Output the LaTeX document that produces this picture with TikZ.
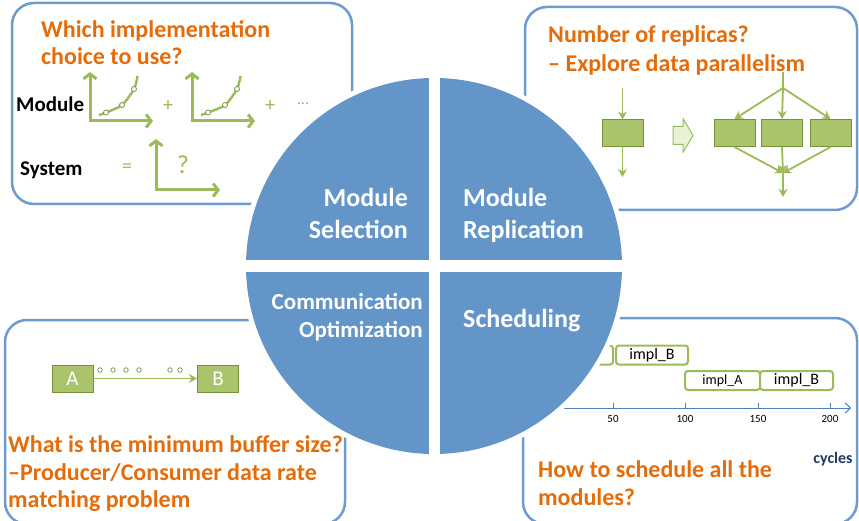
\documentclass[tikz,border=0pt]{standalone}
\usepackage{fontspec}
\setmainfont{Carlito}
\usetikzlibrary{arrows.meta}

\definecolor{quadblue}{RGB}{99,149,201}
\definecolor{frameblue}{RGB}{108,155,207}
\definecolor{accent}{RGB}{228,108,10}
\definecolor{leaf}{RGB}{155,187,89}
\definecolor{leafdark}{RGB}{118,146,60}
\definecolor{leaffill}{RGB}{169,196,106}
\definecolor{leaflight}{RGB}{232,243,214}
\definecolor{navy}{RGB}{31,56,100}
\definecolor{axisblue}{RGB}{79,129,189}

\tikzset{
  frame/.style={draw=frameblue, line width=2.5pt, rounded corners=22pt},
  question/.style={text=accent, font=\bfseries\fontsize{24}{28}\selectfont, inner sep=0, anchor=base west},
  label/.style={text=black, font=\bfseries\fontsize{21}{24}\selectfont, inner sep=0, anchor=base west},
  quadtext/.style={text=white, font=\bfseries\fontsize{26}{30}\selectfont, inner sep=0},
  quadsmall/.style={text=white, font=\bfseries\fontsize{23}{27}\selectfont, inner sep=0, anchor=base east},
  plotaxis/.style={draw=leaf, line width=3pt, line join=miter,
    {Straight Barb[length=5pt,width=13pt]}-{Straight Barb[length=5pt,width=13pt]}},
  trend/.style={draw=leaf, line width=2.4pt},
  sample/.style={circle, draw=leafdark, fill=white, line width=0.8pt, inner sep=0, minimum size=5pt},
  sign/.style={text=leaf, font=\fontsize{20}{24}\selectfont, inner sep=0},
  block/.style={draw=leafdark, fill=leaffill, line width=1pt, minimum width=41pt, minimum height=27pt, inner sep=0},
  flow/.style={draw=leaf, line width=1.8pt, -{Stealth[length=8pt,width=9pt,inset=2.5pt]}},
  feed/.style={draw=leaf, line width=1.8pt},
  token/.style={circle, draw=leafdark, fill=white, line width=0.7pt, inner sep=0, minimum size=4.5pt},
  task/.style={draw=leaf, fill=white, line width=2pt, rounded corners=3pt, minimum height=19pt, inner sep=0},
  ticklabel/.style={font=\fontsize{11}{13}\selectfont, inner sep=0, anchor=base},
}

\begin{document}
\begin{tikzpicture}[x=1pt,y=-1pt]
\path[use as bounding box] (0,0) rectangle (859,521);
\clip (0,0) rectangle (859,521);

% ---------- four frames ----------
\draw[frame] (12,3) rectangle (352,204);
\draw[frame] (525,7) rectangle (857,210);
\draw[frame] (5,320) rectangle (345,524);
\draw[frame] (523,318) rectangle (857,524);

% ---------- module selection panel ----------
\node[question] (selq1) at (41,38) {Which implementation};
\node[question] (selq2) at (41,65) {choice to use?};
\node[label] (modlbl) at (16,112) {Module};
\node[label] (syslbl) at (20,176) {System};

% first cost curve
\coordinate (g1y) at (90,72);
\coordinate (g1x) at (153,121);
\draw[plotaxis] (g1y) |- (g1x);
\draw[trend] plot[smooth] coordinates {(99,115) (106,112.5) (122,105) (134,89) (137.5,76)};
\node[sample] (p11) at (106,112.5) {};
\node[sample] (p12) at (122,105) {};
\node[sample] (p13) at (134,89) {};
\node[sign] (plus1) at (168,106) {+};

% second cost curve
\coordinate (g2y) at (192,72);
\coordinate (g2x) at (255,121);
\draw[plotaxis] (g2y) |- (g2x);
\draw[trend] plot[smooth] coordinates {(201,115) (208,112.5) (225,105) (237,89) (240.5,76)};
\node[sample] (p21) at (208,112.5) {};
\node[sample] (p22) at (225,105) {};
\node[sample] (p23) at (237,89) {};
\node[sign] (plus2) at (270,106) {+};
\node[sign, font=\fontsize{16}{18}\selectfont] (more) at (303,104) {...};

% system curve
\node[sign] (equals) at (127,168) {=};
\coordinate (g3y) at (156,139);
\coordinate (g3x) at (220,190);
\draw[plotaxis] (g3y) |- (g3x);
\node[sign, font=\fontsize{26}{30}\selectfont] (unknown) at (183,165) {?};

% ---------- module replication panel ----------
\node[question] (repq1) at (548,43) {Number of replicas?};
\node[question] (repq2) at (548,72) {– Explore data parallelism};

\node[block] (single) at (622.5,133.5) {};
\coordinate (singlein) at (622.5,88);
\coordinate (singleout) at (622.5,177);
\draw[flow] (singlein) -- (single.north);
\draw[flow] (single.south) -- (singleout);

% block arrow between the two layouts
\draw[draw=leaf, fill=leaflight, line width=1pt, line join=round]
  (673,126.5) -- (683,126.5) -- (683,118.5) -- (693,135.5) -- (683,152.5) -- (683,144.5) -- (673,144.5) -- cycle;

\node[block] (rep1) at (734.5,133) {};
\node[block] (rep2) at (782,133) {};
\node[block] (rep3) at (830.5,133) {};
\coordinate (source) at (783,72);
\coordinate (fork) at (783,88);
\coordinate (merge) at (783,173);
\coordinate (sink) at (783,197);
\draw[feed] (source) -- (fork);
\draw[flow] (fork) -- (rep1.north);
\draw[flow] (fork) -- (rep2.north);
\draw[flow] (fork) -- (rep3.north);
\draw[flow] (rep1.south) -- (merge);
\draw[flow] (rep2.south) -- (merge);
\draw[flow] (rep3.south) -- (merge);
\draw[flow] (merge) -- (sink);

% ---------- communication panel ----------
\node[block, text=white, font=\fontsize{21}{24}\selectfont] (prod) at (72.5,378.5) {A};
\node[block, text=white, font=\fontsize{21}{24}\selectfont] (cons) at (218,378.5) {B};
\draw[flow] (prod) -- (cons);
\foreach \x [count=\i] in {100,113,126,139,170,180}
  \node[token] (tok\i) at (\x,370) {};
\node[question] (comq1) at (8,452) {What is the minimum buffer size?};
\node[question] (comq2) at (8,480) {–Producer/Consumer data rate};
\node[question] (comq3) at (8,507) {matching problem};

% ---------- scheduling panel ----------
\node[task, minimum width=73pt] (taskpre) at (576.5,355) {};
\node[task, minimum width=72pt, font=\fontsize{16}{18}\selectfont] (taskb1) at (652,355) {impl\_B};
\node[task, minimum width=75pt, font=\fontsize{14}{16}\selectfont] (taska) at (722.5,380.5) {impl\_A};
\node[task, minimum width=73pt, font=\fontsize{16}{18}\selectfont] (taskb2) at (796.5,380.5) {impl\_B};

\coordinate (axisstart) at (540,408);
\coordinate (axisend) at (851,408);
\draw[axisblue, line width=1pt, -{Straight Barb[length=5pt,width=10pt]}] (axisstart) -- (axisend);
\foreach \x/\v in {613/50,685/100,758/150,830/200} {
  \draw[axisblue, line width=1pt] (\x,403) -- (\x,408);
  \node[ticklabel] (tick\v) at (\x,422) {\v};
}
\node[text=navy, font=\bfseries\fontsize{16}{18}\selectfont, inner sep=0, anchor=base] (cycles) at (833,463) {cycles};
\node[question] (schq1) at (538,477) {How to schedule all the};
\node[question] (schq2) at (538,505) {modules?};

% ---------- central quartered disc ----------
\coordinate (hub) at (434,266);
\fill[white] (hub) circle (193);
\fill[quadblue] (hub) circle (188);
\begin{scope}
  \clip (hub) circle (188);
  \fill[white] (428.5,70) rectangle (439.5,470);
  \fill[white] (240,260) rectangle (630,272);
\end{scope}

\node[quadtext, anchor=base east] (selA) at (408,207) {Module};
\node[quadtext, anchor=base east] (selB) at (408,239) {Selection};
\node[quadtext, anchor=base west] (repA) at (463,207) {Module};
\node[quadtext, anchor=base west] (repB) at (463,239) {Replication};
\node[quadsmall] (comA) at (423,309) {Communication};
\node[quadsmall] (comB) at (423,337) {Optimization};
\node[quadtext, anchor=base west] (sched) at (463,327) {Scheduling};
\end{tikzpicture}
\end{document}
